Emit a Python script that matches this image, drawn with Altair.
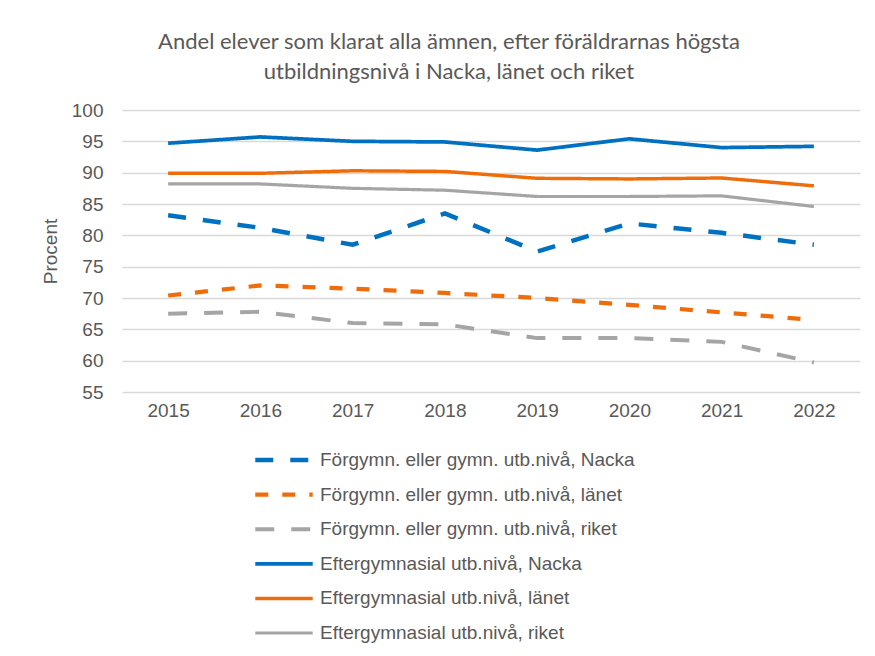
import altair as alt
import pandas as pd

years = ["2015", "2016", "2017", "2018", "2019", "2020", "2021", "2022"]
series = [
    "Förgymn. eller gymn. utb.nivå, Nacka",
    "Förgymn. eller gymn. utb.nivå, länet",
    "Förgymn. eller gymn. utb.nivå, riket",
    "Eftergymnasial utb.nivå, Nacka",
    "Eftergymnasial utb.nivå, länet",
    "Eftergymnasial utb.nivå, riket",
]
forgymn_nacka = [83.2, 81.2, 78.5, 83.5, 77.4, 81.9, 80.4, 78.5]
forgymn_lanet = [70.4, 72.0, 71.5, 70.8, 70.0, 68.9, 67.7, 66.5]
forgymn_riket = [67.5, 67.8, 66.0, 65.8, 63.6, 63.6, 63.0, 59.7]
efter_nacka = [94.7, 95.7, 95.0, 94.9, 93.6, 95.4, 94.0, 94.2]
efter_lanet = [89.9, 89.9, 90.3, 90.2, 89.1, 89.0, 89.15, 87.9]
efter_riket = [88.2, 88.2, 87.5, 87.2, 86.2, 86.2, 86.3, 84.6]
y_ticks = [55, 60, 65, 70, 75, 80, 85, 90, 95, 100]

all_values = [forgymn_nacka, forgymn_lanet, forgymn_riket, efter_nacka, efter_lanet, efter_riket]
rows = []
for s, vals in zip(series, all_values):
    for yr, v in zip(years, vals):
        rows.append({"serie": s, "year": yr, "value": v})
df = pd.DataFrame(rows)

colors = ["#0070C0", "#EE6C0A", "#A5A5A5", "#0070C0", "#EE6C0A", "#A5A5A5"]
dashes = [[18, 17], [13, 14], [19, 17], [1, 0], [1, 0], [1, 0]]
widths = [4.5, 3.2, 4.5, 4.5, 3.5, 4.5]

legend = alt.Legend(
    title=None,
    orient="none",
    legendX=131,
    legendY=334,
    direction="vertical",
    labelFont="Liberation Sans",
    labelFontSize=19,
    labelColor="#595959",
    labelOffset=5,
    symbolType="stroke",
    symbolSize=3300,
    symbolStrokeWidth=4,
    clipHeight=32,
    rowPadding=2.6,
    labelLimit=600,
)

chart = alt.Chart(df).mark_line(strokeCap="butt").encode(
    x=alt.X("year:O", sort=years, axis=alt.Axis(title=None, labelAngle=0, labelFont="Liberation Sans",
                                                 labelFontSize=19, labelColor="#595959", ticks=False,
                                                 domain=False, labelPadding=9)),
    y=alt.Y("value:Q", scale=alt.Scale(domain=[55, 100], nice=False, zero=False),
            axis=alt.Axis(title="Procent", values=y_ticks, labelFont="Liberation Sans", labelFontSize=19,
                          labelColor="#595959", ticks=False, domain=False, labelPadding=19,
                          gridColor="#D9D9D9", gridWidth=1.5, titleFont="Liberation Sans",
                          titleFontSize=19, titleColor="#595959", titleFontWeight="normal",
                          titlePadding=11)),
    color=alt.Color("serie:N", sort=series, scale=alt.Scale(domain=series, range=colors), legend=legend),
    strokeDash=alt.StrokeDash("serie:N", sort=series, scale=alt.Scale(domain=series, range=dashes), legend=legend),
    strokeWidth=alt.StrokeWidth("serie:N", sort=series, scale=alt.Scale(domain=series, range=widths), legend=None),
).properties(
    width=738,
    height=282,
    autosize=alt.AutoSizeParams(type="none"),
    padding={"left": 114, "top": 102, "right": 7, "bottom": 254},
    title=alt.TitleParams(
        text=["Andel elever som klarat alla ämnen, efter föräldrarnas högsta",
              "utbildningsnivå i Nacka, länet och riket"],
        font="Lato", fontSize=22, fontWeight="normal", color="#595959",
        anchor="middle", dx=-42, offset=17, lineHeight=30,
    ),
).configure_view(stroke=None)

chart.save("out.html", embed_options={"renderer": "svg", "actions": False})
